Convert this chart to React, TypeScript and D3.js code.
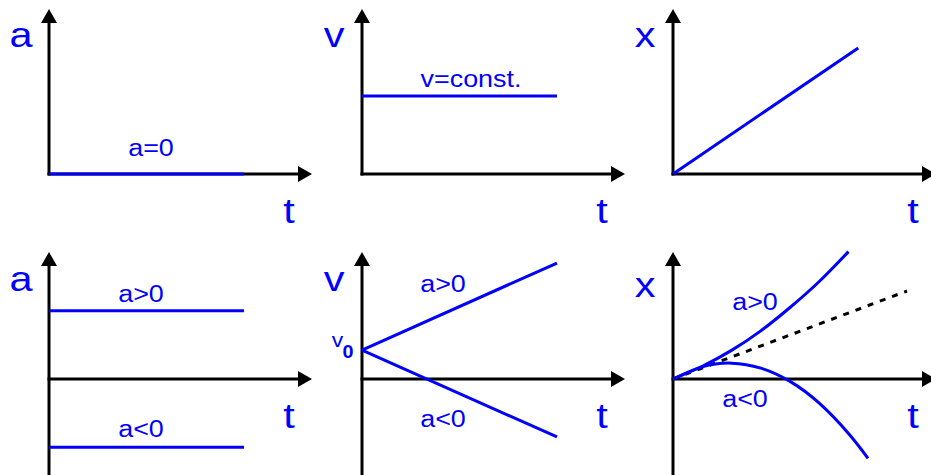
import React from 'react';
import * as d3 from 'd3';

// quantities on the vertical axes, left to right
const quantities = ['a', 'v', 'x'];
const timeLabel = 't';

// uniform motion (top row)
const accelZero = 0;
const velocityConst = 0.6;
const uniformTimes = [0, 0.95];
const uniformPosition = [0, 0.97];

// accelerated motion (bottom row)
const accelLevels = [0.525, -0.525];
const accelLabels = ['a>0', 'a<0'];
const v0 = 0.223;
const velocityEnds = [0.892, -0.446];
const upTimes = [0, 0.15, 0.3, 0.45, 0.6, 0.75, 0.9];
const positionUp = [0, 0.098, 0.22, 0.37, 0.55, 0.75, 0.98];
const downTimes = [0, 0.15, 0.3, 0.45, 0.6, 0.75, 0.9, 1.0];
const positionDown = [0, 0.093, 0.122, 0.084, -0.018, -0.186, -0.419, -0.61];
const tangentTimes = [0, 1.2];
const tangentPosition = [0, 0.677];

const BLUE = '#0000ff';
const FONT = '"Liberation Sans", Arial, sans-serif';
const cols = [49, 362, 673];
const rows = [174, 379];

function Label({ x, y, size, children, sx = 1.17 }) {
  return (
    <text transform={`translate(${x},${y}) scale(${sx},1)`} textAnchor="middle"
      fontFamily={FONT} fontSize={size} fill={BLUE}>{children}</text>
  );
}

function Axes({ ox, oy, top, bottom, name, nameY }) {
  let tipX = ox + 263;
  let tipY = oy - top;
  return (
    <g>
      <line x1={ox} y1={oy + bottom} x2={ox} y2={tipY + 10} stroke="black" strokeWidth={3} />
      <line x1={ox - 1.5} y1={oy} x2={tipX - 10} y2={oy} stroke="black" strokeWidth={3} />
      <path d={`M${ox},${tipY} L${ox - 8},${tipY + 14} L${ox + 8},${tipY + 14} Z`} fill="black" />
      <path d={`M${tipX},${oy} L${tipX - 14},${oy - 8} L${tipX - 14},${oy + 8} Z`} fill="black" />
      <Label x={ox - 28} y={nameY} size={36} sx={1.15}>{name}</Label>
    </g>
  );
}

function Panel({ col, row, children, nameY }) {
  let ox = cols[col];
  let oy = rows[row];
  let x = d3.scaleLinear().domain([0, 1]).range([ox, ox + 195]);
  let y = d3.scaleLinear().domain([0, 1]).range([oy, oy - 130]);
  return (
    <g>
      <Axes ox={ox} oy={oy} top={row === 0 ? 165 : 127} bottom={row === 0 ? 1.5 : 110}
        name={quantities[col]} nameY={nameY} />
      <Label x={ox + 240} y={row === 0 ? 223 : 428} size={36} sx={1.15}>{timeLabel}</Label>
      {children(x, y)}
    </g>
  );
}

export default function App() {
  let path = (x, y, ts, vs, curve = d3.curveLinear) =>
    d3.line().x((d) => x(d[0])).y((d) => y(d[1])).curve(curve)(ts.map((t, i) => [t, vs[i]]));

  return (
    <svg width={931} height={475} style={{ position: 'absolute', left: 0, top: 0, background: 'white' }}>
      {/* top row: uniform motion */}
      <Panel col={0} row={0} nameY={47}>
        {(x, y) => (
          <g>
            <path d={path(x, y, [0, 1], [accelZero, accelZero])} stroke={BLUE} strokeWidth={3} fill="none" />
            <Label x={151} y={156} size={23}>a=0</Label>
          </g>
        )}
      </Panel>
      <Panel col={1} row={0} nameY={47}>
        {(x, y) => (
          <g>
            <path d={path(x, y, [0, 1], [velocityConst, velocityConst])} stroke={BLUE} strokeWidth={3} fill="none" />
            <Label x={471} y={87} size={23}>v=const.</Label>
          </g>
        )}
      </Panel>
      <Panel col={2} row={0} nameY={47}>
        {(x, y) => (
          <path d={path(x, y, uniformTimes, uniformPosition)} stroke={BLUE} strokeWidth={3} fill="none" />
        )}
      </Panel>

      {/* bottom row: accelerated motion */}
      <Panel col={0} row={1} nameY={291}>
        {(x, y) => (
          <g>
            {accelLevels.map((a, i) => (
              <path key={i} d={path(x, y, [0, 1], [a, a])} stroke={BLUE} strokeWidth={3} fill="none" />
            ))}
            <Label x={141} y={302} size={23}>{accelLabels[0]}</Label>
            <Label x={141} y={437} size={23}>{accelLabels[1]}</Label>
          </g>
        )}
      </Panel>
      <Panel col={1} row={1} nameY={291}>
        {(x, y) => (
          <g>
            {velocityEnds.map((v, i) => (
              <path key={i} d={path(x, y, [0, 1], [v0, v])} stroke={BLUE} strokeWidth={3} fill="none" />
            ))}
            <Label x={443} y={292} size={23}>{accelLabels[0]}</Label>
            <Label x={443} y={427} size={23}>{accelLabels[1]}</Label>
            <text transform={`translate(337.5,347) scale(1.15,1)`} textAnchor="middle" fontFamily={FONT}
              fontSize={20} fill={BLUE}>v</text>
            <text transform={`translate(348,357.5) scale(1.1,1)`} textAnchor="middle" fontFamily={FONT}
              fontSize={18} fontWeight="bold" fill={BLUE}>0</text>
          </g>
        )}
      </Panel>
      <Panel col={2} row={1} nameY={297}>
        {(x, y) => (
          <g>
            <path d={path(x, y, tangentTimes, tangentPosition)} stroke="black" strokeWidth={3}
              strokeDasharray="6 7" fill="none" />
            <path d={path(x, y, upTimes, positionUp, d3.curveNatural)} stroke={BLUE} strokeWidth={3} fill="none" />
            <path d={path(x, y, downTimes, positionDown, d3.curveNatural)} stroke={BLUE} strokeWidth={3} fill="none" />
            <Label x={755} y={310} size={23}>{accelLabels[0]}</Label>
            <Label x={745} y={407} size={23}>{accelLabels[1]}</Label>
          </g>
        )}
      </Panel>
    </svg>
  );
}
